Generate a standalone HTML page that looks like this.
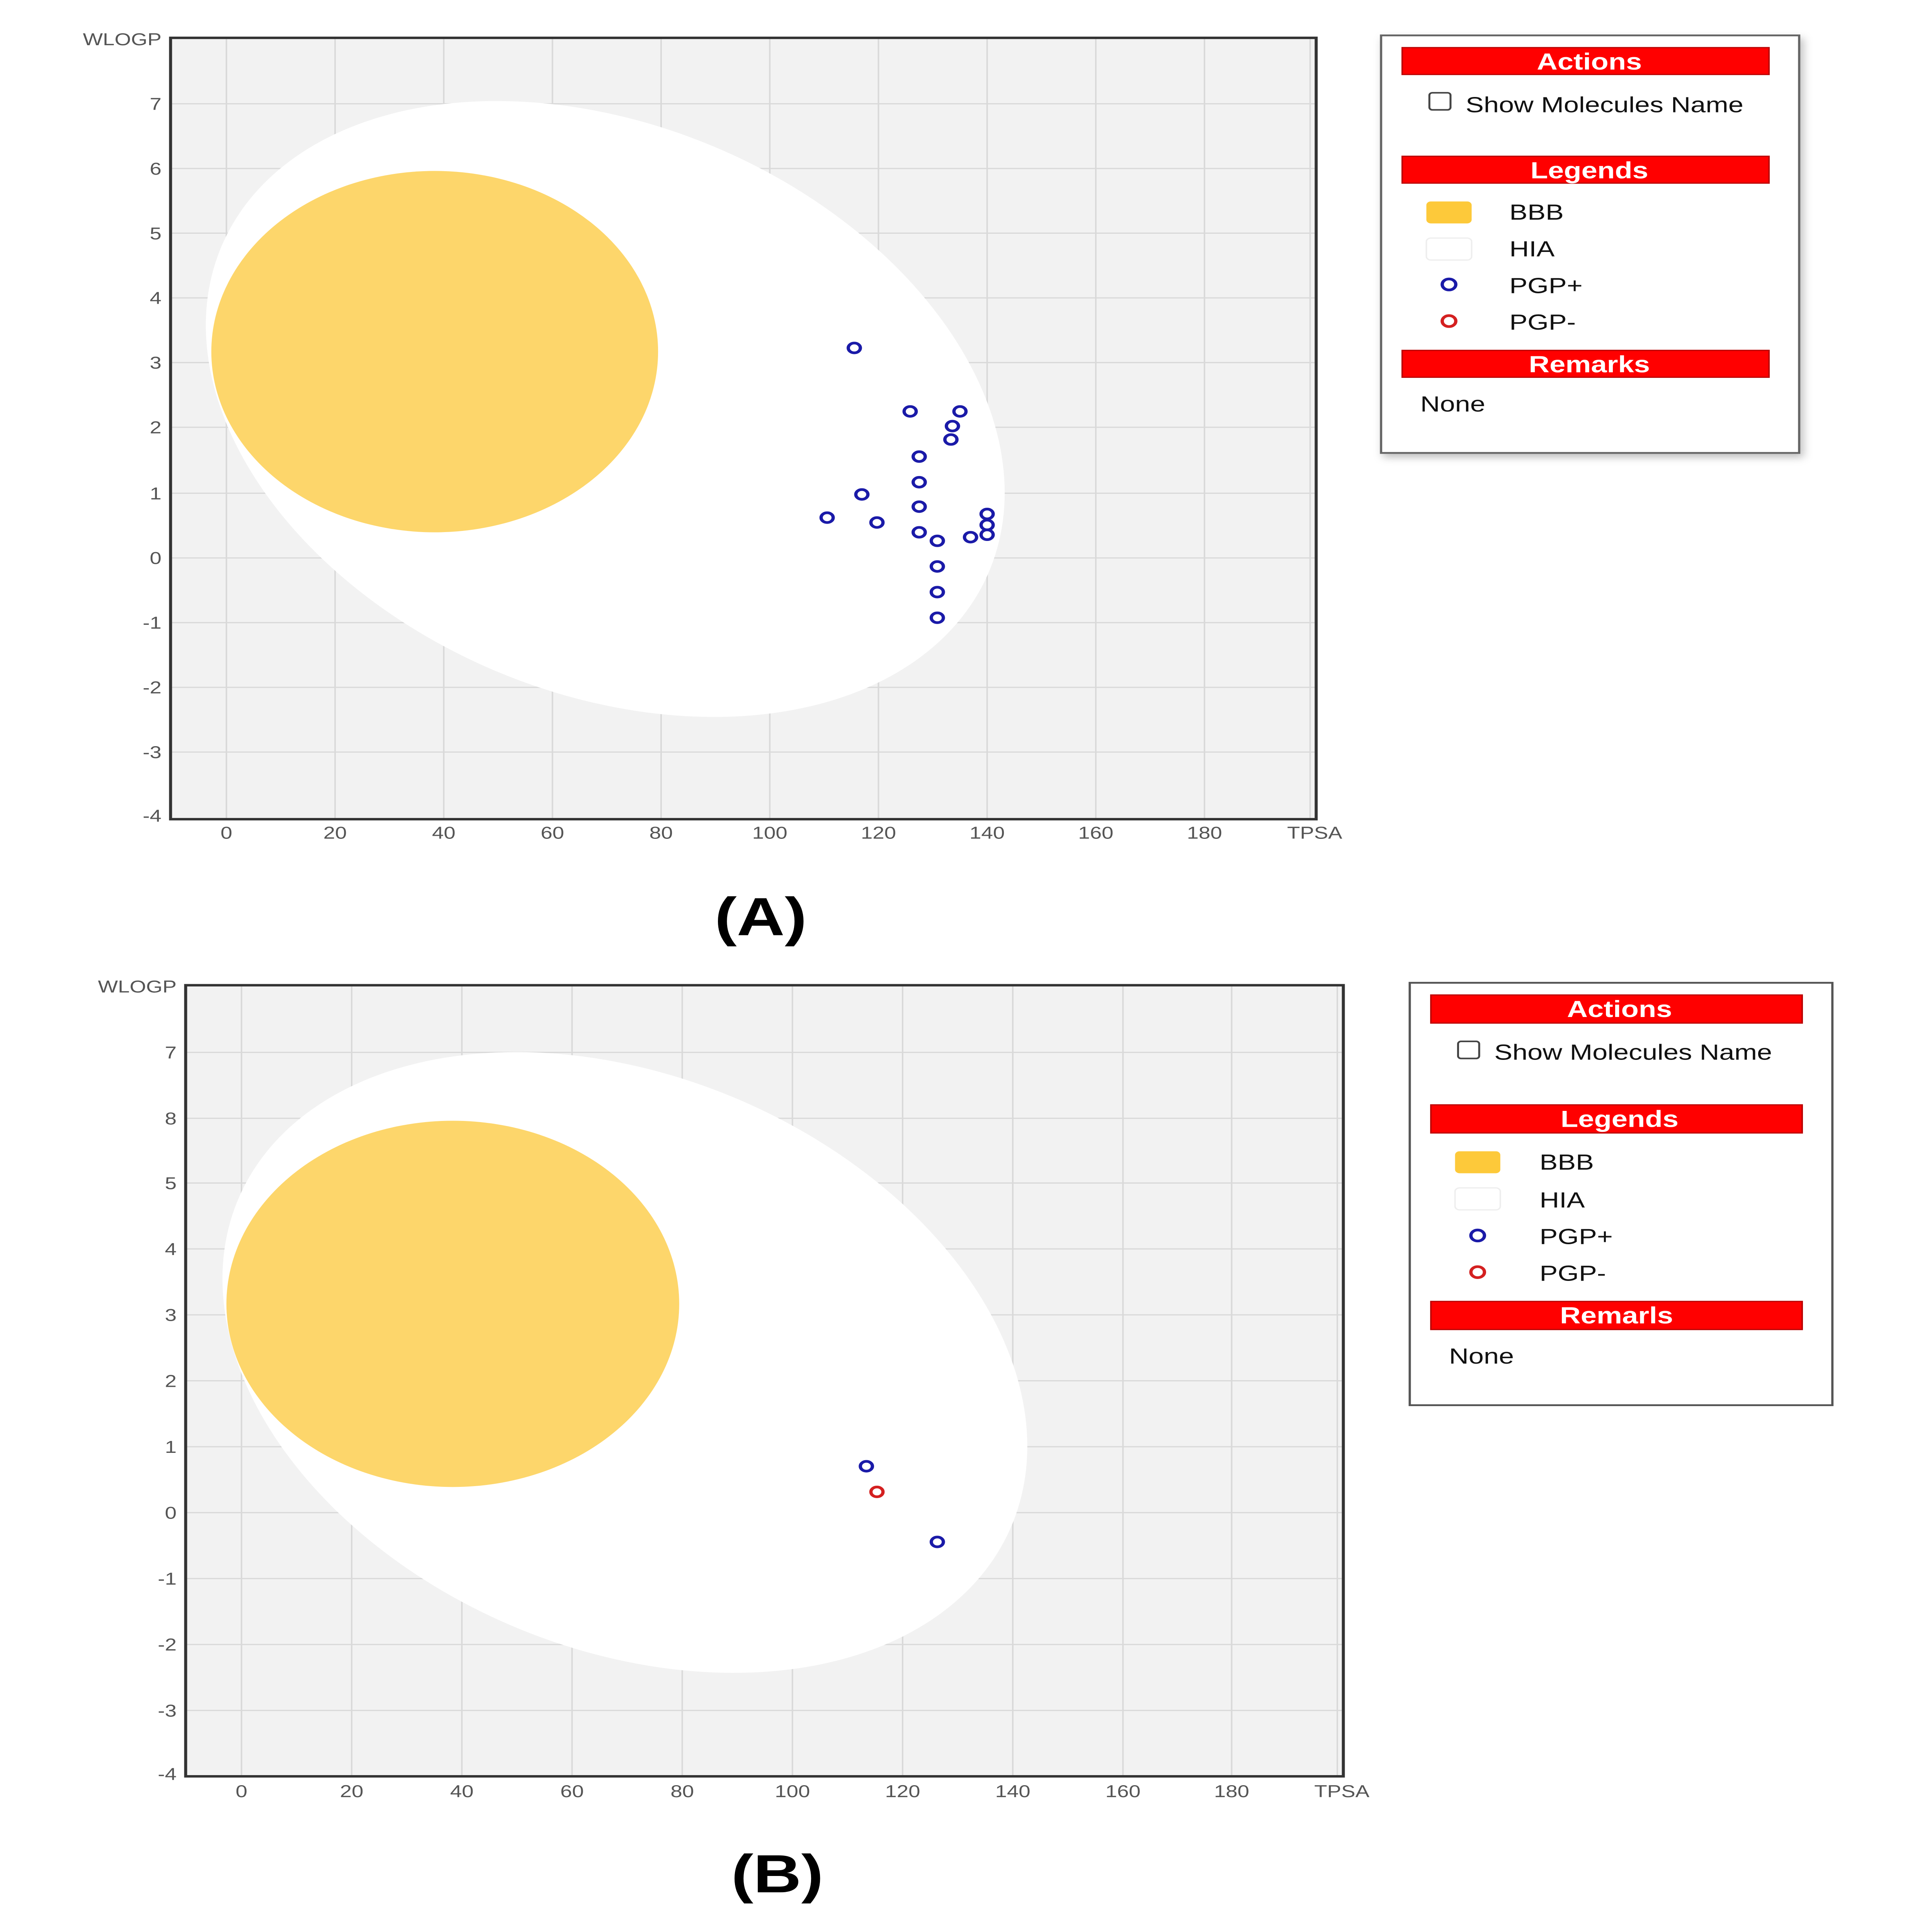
<!DOCTYPE html>
<html><head><meta charset="utf-8"><style>
html,body{margin:0;padding:0;background:#fff;width:100%;height:100%;overflow:hidden;}
svg{display:block;width:100vw;height:100vh;}
text{font-family:"Liberation Sans",sans-serif;}
</style></head><body>
<svg viewBox="0 0 1280 1582.5" preserveAspectRatio="none" xmlns="http://www.w3.org/2000/svg">
<rect width="1280" height="1583" fill="#fff"/>
<defs>
<filter id="sh" x="-5%" y="-5%" width="115%" height="115%"><feDropShadow dx="2" dy="3" stdDeviation="3" flood-color="#000" flood-opacity="0.25"/></filter>
</defs>

<g>
<rect x="113" y="31" width="759" height="640" fill="#f2f2f2"/>
<g stroke="#d9d9d9" stroke-width="1">
<line x1="150" y1="31" x2="150" y2="671"/><line x1="222" y1="31" x2="222" y2="671"/><line x1="294" y1="31" x2="294" y2="671"/><line x1="366" y1="31" x2="366" y2="671"/><line x1="438" y1="31" x2="438" y2="671"/><line x1="510" y1="31" x2="510" y2="671"/><line x1="582" y1="31" x2="582" y2="671"/><line x1="654" y1="31" x2="654" y2="671"/><line x1="726" y1="31" x2="726" y2="671"/><line x1="798" y1="31" x2="798" y2="671"/><line x1="868" y1="31" x2="868" y2="671"/>
<line x1="113" y1="85" x2="872" y2="85"/><line x1="113" y1="138" x2="872" y2="138"/><line x1="113" y1="191" x2="872" y2="191"/><line x1="113" y1="244" x2="872" y2="244"/><line x1="113" y1="297" x2="872" y2="297"/><line x1="113" y1="350" x2="872" y2="350"/><line x1="113" y1="404" x2="872" y2="404"/><line x1="113" y1="457" x2="872" y2="457"/><line x1="113" y1="510" x2="872" y2="510"/><line x1="113" y1="563" x2="872" y2="563"/><line x1="113" y1="616" x2="872" y2="616"/>
</g>
<ellipse cx="401" cy="335" rx="292" ry="220" transform="rotate(40 401 335)" fill="#fff"/>
<circle cx="288" cy="288" r="148" fill="#fdd66b"/>
<rect x="113" y="31" width="759" height="640" fill="none" stroke="#333" stroke-width="2"/>
<g font-size="14" fill="#555" text-anchor="end">
<text x="107" y="37">WLOGP</text>
<text x="107" y="90">7</text><text x="107" y="143">6</text><text x="107" y="196">5</text><text x="107" y="249">4</text><text x="107" y="302">3</text><text x="107" y="355">2</text><text x="107" y="409">1</text><text x="107" y="462">0</text><text x="107" y="515">-1</text><text x="107" y="568">-2</text><text x="107" y="621">-3</text><text x="107" y="673">-4</text>
</g>
<g font-size="14" fill="#555" text-anchor="middle">
<text x="150" y="687">0</text><text x="222" y="687">20</text><text x="294" y="687">40</text><text x="366" y="687">60</text><text x="438" y="687">80</text><text x="510" y="687">100</text><text x="582" y="687">120</text><text x="654" y="687">140</text><text x="726" y="687">160</text><text x="798" y="687">180</text><text x="871" y="687">TPSA</text>
</g>
<g fill="none" stroke="#1a1aa8" stroke-width="2.2">
<circle cx="566" cy="285" r="4"/><circle cx="603" cy="337" r="4"/><circle cx="636" cy="337" r="4"/><circle cx="631" cy="349" r="4"/><circle cx="630" cy="360" r="4"/><circle cx="609" cy="374" r="4"/><circle cx="609" cy="395" r="4"/><circle cx="571" cy="405" r="4"/><circle cx="609" cy="415" r="4"/><circle cx="548" cy="424" r="4"/><circle cx="581" cy="428" r="4"/><circle cx="609" cy="436" r="4"/><circle cx="621" cy="443" r="4"/><circle cx="643" cy="440" r="4"/><circle cx="654" cy="421" r="4"/><circle cx="654" cy="430" r="4"/><circle cx="654" cy="438" r="4"/><circle cx="621" cy="464" r="4"/><circle cx="621" cy="485" r="4"/><circle cx="621" cy="506" r="4"/>
</g>
<rect x="915" y="29" width="277" height="342" fill="#fff" stroke="#666" stroke-width="1.5" filter="url(#sh)"/>
<g fill="#ff0000" stroke="#b00" stroke-width="1">
<rect x="929" y="39" width="243" height="22"/><rect x="929" y="128" width="243" height="22"/><rect x="929" y="287" width="243" height="22"/>
</g>
<g font-size="19" font-weight="bold" fill="#fff" text-anchor="middle">
<text x="1053" y="57">Actions</text><text x="1053" y="146">Legends</text><text x="1053" y="305">Remarks</text>
</g>
<rect x="947" y="76" width="14" height="14" rx="2" fill="#fff" stroke="#444" stroke-width="1.3"/>
<g font-size="18" fill="#111">
<text x="971" y="92">Show Molecules Name</text>
<text x="1000" y="180">BBB</text><text x="1000" y="210">HIA</text><text x="1000" y="240">PGP+</text><text x="1000" y="270">PGP-</text>
<text x="941" y="337">None</text>
</g>
<rect x="945" y="165" width="30" height="18" rx="3" fill="#fdc93a"/>
<rect x="945" y="195" width="30" height="18" rx="3" fill="#fff" stroke="#eee"/>
<circle cx="960" cy="233" r="4.5" fill="none" stroke="#1a1aa8" stroke-width="2.2"/>
<circle cx="960" cy="263" r="4.5" fill="none" stroke="#d42020" stroke-width="2.2"/>
<text x="504" y="766" font-family="Liberation Serif,serif" font-size="44" font-weight="bold" text-anchor="middle" fill="#000">(A)</text>
</g>

<g>
<rect x="123" y="807" width="767" height="648" fill="#f2f2f2"/>
<g stroke="#d9d9d9" stroke-width="1">
<line x1="160" y1="807" x2="160" y2="1455"/><line x1="233" y1="807" x2="233" y2="1455"/><line x1="306" y1="807" x2="306" y2="1455"/><line x1="379" y1="807" x2="379" y2="1455"/><line x1="452" y1="807" x2="452" y2="1455"/><line x1="525" y1="807" x2="525" y2="1455"/><line x1="598" y1="807" x2="598" y2="1455"/><line x1="671" y1="807" x2="671" y2="1455"/><line x1="744" y1="807" x2="744" y2="1455"/><line x1="816" y1="807" x2="816" y2="1455"/><line x1="886" y1="807" x2="886" y2="1455"/>
<line x1="123" y1="862" x2="890" y2="862"/><line x1="123" y1="916" x2="890" y2="916"/><line x1="123" y1="969" x2="890" y2="969"/><line x1="123" y1="1023" x2="890" y2="1023"/><line x1="123" y1="1077" x2="890" y2="1077"/><line x1="123" y1="1131" x2="890" y2="1131"/><line x1="123" y1="1185" x2="890" y2="1185"/><line x1="123" y1="1239" x2="890" y2="1239"/><line x1="123" y1="1293" x2="890" y2="1293"/><line x1="123" y1="1347" x2="890" y2="1347"/><line x1="123" y1="1401" x2="890" y2="1401"/>
</g>
<ellipse cx="414" cy="1116" rx="294" ry="222" transform="rotate(40 414 1116)" fill="#fff"/>
<circle cx="300" cy="1068" r="150" fill="#fdd66b"/>
<rect x="123" y="807" width="767" height="648" fill="none" stroke="#333" stroke-width="2"/>
<g font-size="14" fill="#555" text-anchor="end">
<text x="117" y="813">WLOGP</text>
<text x="117" y="867">7</text><text x="117" y="921">8</text><text x="117" y="974">5</text><text x="117" y="1028">4</text><text x="117" y="1082">3</text><text x="117" y="1136">2</text><text x="117" y="1190">1</text><text x="117" y="1244">0</text><text x="117" y="1298">-1</text><text x="117" y="1352">-2</text><text x="117" y="1406">-3</text><text x="117" y="1458">-4</text>
</g>
<g font-size="14" fill="#555" text-anchor="middle">
<text x="160" y="1472">0</text><text x="233" y="1472">20</text><text x="306" y="1472">40</text><text x="379" y="1472">60</text><text x="452" y="1472">80</text><text x="525" y="1472">100</text><text x="598" y="1472">120</text><text x="671" y="1472">140</text><text x="744" y="1472">160</text><text x="816" y="1472">180</text><text x="889" y="1472">TPSA</text>
</g>
<circle cx="574" cy="1201" r="4" fill="none" stroke="#1a1aa8" stroke-width="2.2"/>
<circle cx="621" cy="1263" r="4" fill="none" stroke="#1a1aa8" stroke-width="2.2"/>
<circle cx="581" cy="1222" r="4" fill="none" stroke="#d42020" stroke-width="2.2"/>
<rect x="934" y="805" width="280" height="346" fill="#fff" stroke="#555" stroke-width="1.5"/>
<g fill="#ff0000" stroke="#b00" stroke-width="1">
<rect x="948" y="815" width="246" height="23"/><rect x="948" y="905" width="246" height="23"/><rect x="948" y="1066" width="246" height="23"/>
</g>
<g font-size="19" font-weight="bold" fill="#fff" text-anchor="middle">
<text x="1073" y="833">Actions</text><text x="1073" y="923">Legends</text><text x="1071" y="1084">Remarls</text>
</g>
<rect x="966" y="853" width="14" height="14" rx="2" fill="#fff" stroke="#444" stroke-width="1.3"/>
<g font-size="18" fill="#111">
<text x="990" y="868">Show Molecules Name</text>
<text x="1020" y="958">BBB</text><text x="1020" y="989">HIA</text><text x="1020" y="1019">PGP+</text><text x="1020" y="1049">PGP-</text>
<text x="960" y="1117">None</text>
</g>
<rect x="964" y="943" width="30" height="18" rx="3" fill="#fdc93a"/>
<rect x="964" y="973" width="30" height="18" rx="3" fill="#fff" stroke="#eee"/>
<circle cx="979" cy="1012" r="4.5" fill="none" stroke="#1a1aa8" stroke-width="2.2"/>
<circle cx="979" cy="1042" r="4.5" fill="none" stroke="#d42020" stroke-width="2.2"/>
<text x="515" y="1550" font-family="Liberation Serif,serif" font-size="44" font-weight="bold" text-anchor="middle" fill="#000">(B)</text>
</g>
</svg>
</body></html>
